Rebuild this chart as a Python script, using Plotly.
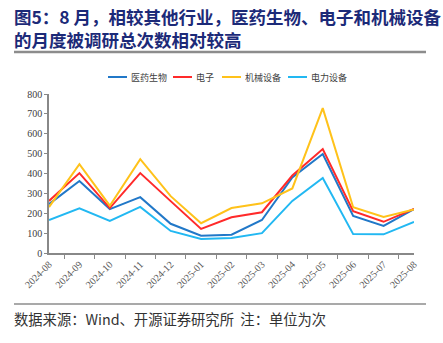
import plotly.graph_objects as go

months = ["2024-08", "2024-09", "2024-10", "2024-11", "2024-12", "2025-01", "2025-02",
          "2025-03", "2025-04", "2025-05", "2025-06", "2025-07", "2025-08"]
pharma = [246, 362, 221, 281, 147, 87, 92, 166, 380, 498, 186, 136, 221]
electronics = [262, 402, 226, 402, 261, 121, 180, 205, 390, 523, 210, 157, 222]
machinery = [231, 447, 238, 472, 286, 150, 226, 250, 325, 729, 230, 181, 219]
power = [166, 225, 162, 232, 111, 71, 75, 100, 262, 377, 95, 94, 157]

names = ["医药生物", "电子", "机械设备", "电力设备"]
colors = ["#2178c8", "#ff2a2a", "#ffc21a", "#22b8f2"]
series = [pharma, electronics, machinery, power]

fig = go.Figure()
for n, c, s in zip(names, colors, series):
    fig.add_trace(go.Scatter(x=months, y=s, name=n, mode="lines",
                             line=dict(color=c, width=2)))

cjk = "Noto Sans CJK SC"
serif = "Liberation Serif"

L, T, PW, PH = 49, 94, 365, 159

def px(x):
    return (x - L) / PW

def py(y):
    return (T + PH - y) / PH

fig.update_layout(
    width=443, height=343,
    margin=dict(l=49, r=29, t=94, b=90, autoexpand=False),
    paper_bgcolor="white", plot_bgcolor="white",
    showlegend=False,
    xaxis=dict(type="category", tickangle=-45, tickson="boundaries",
               ticks="outside", ticklen=4, tickcolor="#888888",
               showline=True, linecolor="#888888", linewidth=1.5,
               showgrid=False, tickfont=dict(family=serif, size=10, color="#595959")),
    yaxis=dict(range=[0, 800], dtick=100, ticks="outside", ticklen=3, tickcolor="#888888",
               showline=True, linecolor="#888888", linewidth=1.5, showgrid=False,
               zeroline=False, tickfont=dict(family=serif, size=10, color="#404040")),
)

# legend drawn manually (short line samples like the reference)
leg_x = [108, 173, 222, 288]
for x0, n, c in zip(leg_x, names, colors):
    fig.add_shape(type="line", xref="paper", yref="paper",
                  x0=px(x0), x1=px(x0 + 19), y0=py(77), y1=py(77),
                  line=dict(color=c, width=2))
    fig.add_annotation(text=n, xref="paper", yref="paper", x=px(x0 + 21), y=py(77),
                       xanchor="left", yanchor="middle", showarrow=False,
                       font=dict(family=cjk, size=9, color="#404040"))

title1 = "图5：8 月，相较其他行业，医药生物、电子和机械设备"
title2 = "的月度被调研总次数相对较高"
navy = "#1c2a78"
fig.add_annotation(text="<b>" + title1 + "</b>", xref="paper", yref="paper",
                   x=px(12), y=py(16), xanchor="left", yanchor="middle",
                   showarrow=False, font=dict(family=cjk, size=17.5, color=navy))
fig.add_annotation(text="<b>" + title2 + "</b>", xref="paper", yref="paper",
                   x=px(12), y=py(39), xanchor="left", yanchor="middle",
                   showarrow=False, font=dict(family=cjk, size=17.5, color=navy))
fig.add_annotation(text="数据来源：Wind、开源证券研究所  注：单位为次", xref="paper", yref="paper",
                   x=px(12), y=py(318), xanchor="left", yanchor="middle",
                   showarrow=False, font=dict(family=cjk, size=14.3, color="#333333"))
fig.add_shape(type="line", xref="paper", yref="paper",
              x0=px(14), x1=px(426), y0=py(52), y1=py(52),
              line=dict(color="#8c8c8c", width=2.5))
fig.add_shape(type="line", xref="paper", yref="paper",
              x0=px(14), x1=px(426), y0=py(304), y1=py(304),
              line=dict(color="#8c8c8c", width=1.5))

fig.write_html("out.html")
